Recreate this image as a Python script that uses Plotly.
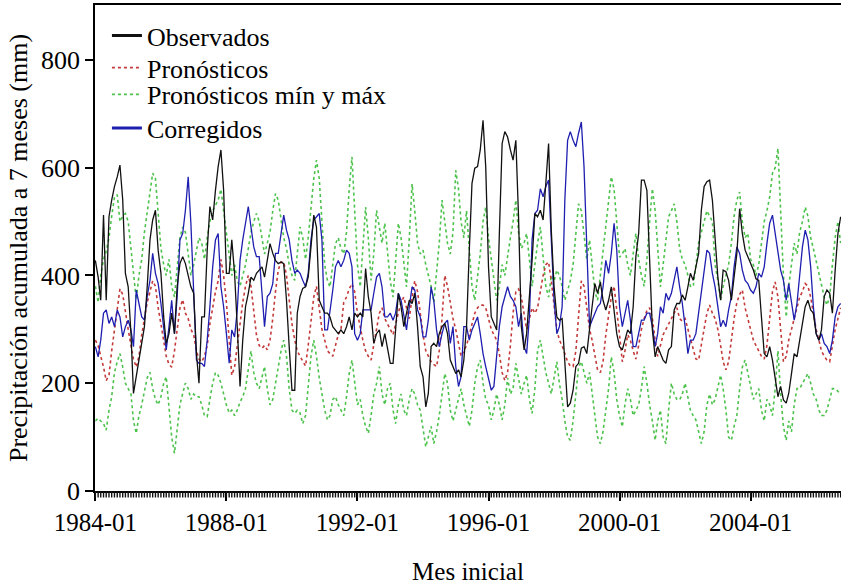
import pandas as pd
import plotly.graph_objects as go

# Monthly series, 1984-01 .. 2006-10 (274 months)
start_month = "1984-01-01"

observados = [
    428, 397, 354, 512, 354, 509, 540, 565, 583, 605, 540, 404, 379, 292, 181, 212, 237, 268, 305, 379, 466, 503, 521, 447, 404, 323, 274, 292, 330, 292, 379, 422, 435, 422, 397, 379, 367, 255, 200, 323, 323, 447, 528, 503, 558, 602,
    633, 558, 404, 404, 466, 404, 305, 194, 280, 342, 367, 397, 391, 404, 410, 416, 397, 428, 459, 441, 428, 422, 425, 422, 354, 268, 187, 187, 330, 361, 376, 379, 397, 453, 512, 490, 354, 342, 330, 330, 323, 305, 299, 292, 299,
    292, 305, 323, 299, 330, 323, 330, 323, 413, 361, 330, 274, 292, 299, 268, 292, 262, 237, 237, 292, 367, 342, 305, 330, 354, 348, 367, 305, 231, 212, 156, 181, 268, 274, 268, 292, 305, 311, 292, 243, 231, 218, 225, 212, 243,
    305, 447, 571, 599, 602, 633, 688, 602, 416, 323, 311, 299, 478, 645, 667, 657, 633, 614, 651, 509, 305, 262, 292, 354, 428, 515, 509, 521, 503, 571, 645, 484, 379, 323, 317, 320, 243, 156, 163, 187, 231, 237, 265, 268, 255,
    305, 342, 385, 367, 388, 354, 336, 354, 379, 330, 292, 268, 262, 280, 299, 292, 342, 435, 478, 577, 577, 558, 416, 299, 249, 268, 255, 243, 237, 262, 268, 336, 348, 348, 364, 354, 379, 404, 391, 416, 441, 521, 565, 574, 577,
    540, 466, 397, 354, 410, 407, 391, 354, 397, 441, 524, 478, 447, 435, 422, 410, 394, 391, 323, 255, 249, 268, 243, 212, 175, 194, 169, 163, 181, 218, 255, 249, 280, 305, 342, 354, 336, 330, 292, 280, 299, 361, 373, 367, 330, 410, 478, 509,
]

corregidos = [
    268, 249, 280, 330, 336, 311, 323, 305, 336, 323, 286, 305, 317, 299, 268, 373, 348, 323, 317, 361, 391, 441, 404, 385, 348, 299, 262, 305, 354, 292, 361, 466, 478, 521, 583, 497, 379, 243, 237, 237, 231, 280, 342, 416, 466, 478,
    379, 342, 292, 237, 299, 286, 336, 428, 466, 497, 528, 490, 453, 435, 435, 367, 305, 361, 367, 385, 441, 441, 478, 512, 484, 466, 428, 404, 410, 404, 391, 379, 404, 466, 503, 509, 515, 466, 299, 299, 330, 373, 416, 428, 416,
    428, 447, 441, 416, 292, 280, 292, 336, 336, 336, 336, 367, 397, 404, 379, 323, 323, 330, 317, 330, 367, 354, 323, 299, 342, 379, 373, 336, 323, 286, 286, 317, 379, 354, 299, 268, 292, 311, 317, 274, 305, 231, 194, 212, 305,
    305, 280, 299, 311, 323, 292, 255, 231, 206, 187, 194, 255, 305, 342, 361, 379, 361, 354, 342, 305, 330, 268, 255, 323, 466, 515, 521, 561, 546, 565, 577, 466, 354, 292, 305, 342, 540, 651, 667, 651, 639, 664, 685, 602, 466,
    305, 317, 330, 342, 348, 379, 428, 404, 441, 497, 447, 342, 305, 330, 354, 317, 268, 268, 292, 317, 317, 330, 330, 305, 268, 292, 342, 330, 367, 354, 367, 391, 416, 379, 348, 305, 255, 280, 280, 292, 330, 361, 404, 447, 441,
    404, 379, 342, 305, 317, 305, 336, 361, 416, 453, 441, 410, 391, 385, 373, 367, 379, 404, 397, 416, 459, 497, 512, 478, 435, 410, 391, 354, 385, 354, 317, 348, 404, 453, 484, 466, 416, 342, 292, 280, 292, 274, 268, 255, 280, 323, 342, 348,
]

pronosticos = [
    280, 270, 250, 230, 205, 215, 260, 300, 340, 375, 365, 330, 300, 270, 245, 230, 250, 290, 320, 350, 370, 390, 380, 340, 310, 280, 250, 235, 230, 260, 300, 340, 355, 330, 320, 300, 290, 260, 245, 240, 250, 270, 310, 340, 370, 390,
    430, 400, 350, 280, 215, 230, 270, 310, 350, 380, 400, 380, 330, 290, 270, 265, 270, 262, 280, 320, 370, 410, 425, 425, 400, 350, 310, 280, 260, 250, 240, 232, 270, 320, 360, 380, 340, 300, 280, 260, 255, 250, 270, 290, 300,
    350, 360, 375, 385, 370, 330, 300, 280, 260, 250, 243, 270, 300, 330, 340, 320, 310, 300, 290, 310, 330, 350, 360, 340, 320, 360, 390, 370, 330, 290, 260, 250, 240, 235, 231, 260, 320, 400, 380, 350, 320, 300, 270, 250, 260,
    270, 290, 310, 330, 340, 345, 345, 340, 320, 300, 290, 280, 255, 220, 205, 220, 270, 330, 370, 375, 360, 330, 300, 320, 340, 330, 340, 370, 400, 420, 425, 390, 340, 300, 280, 270, 255, 240, 232, 231, 260, 330, 390, 380, 340,
    300, 280, 250, 225, 220, 240, 290, 330, 360, 380, 340, 290, 240, 260, 290, 280, 260, 245, 270, 300, 320, 335, 340, 320, 280, 250, 270, 290, 300, 310, 320, 330, 340, 320, 315, 320, 300, 280, 260, 245, 243, 270, 300, 330, 345,
    330, 320, 300, 270, 240, 225, 240, 280, 320, 350, 365, 373, 340, 320, 300, 280, 270, 260, 250, 245, 270, 320, 370, 388, 360, 300, 240, 250, 280, 300, 320, 340, 360, 370, 385, 380, 360, 330, 300, 280, 260, 250, 243, 240, 270, 300, 320, 340,
]

pronosticos_max = [
    380, 350, 400, 430, 445, 470, 510, 545, 550, 500, 510, 515, 500, 450, 400, 355, 400, 430, 480, 520, 560, 590, 580, 520, 450, 420, 400, 430, 380, 360, 420, 470, 490, 480, 440, 400, 420, 450, 470, 460, 430, 470, 500, 520, 530, 540,
    560, 520, 470, 430, 400, 420, 390, 380, 400, 420, 450, 480, 500, 515, 500, 470, 440, 460, 480, 520, 552, 540, 500, 470, 450, 420, 400, 391, 440, 490, 470, 430, 470, 527, 580, 614, 580, 500, 420, 390, 379, 420, 459, 470, 450,
    440, 480, 560, 620, 520, 420, 379, 450, 527, 470, 391, 440, 521, 490, 460, 497, 440, 390, 360, 420, 497, 470, 420, 379, 470, 570, 520, 460, 440, 447, 420, 400, 380, 350, 400, 460, 540, 500, 460, 440, 480, 595, 560, 500, 470,
    520, 450, 380, 354, 400, 440, 500, 527, 470, 430, 400, 354, 380, 420, 400, 440, 470, 500, 540, 480, 450, 460, 478, 430, 380, 420, 460, 490, 440, 380, 360, 400, 390, 410, 400, 380, 354, 370, 390, 420, 480, 533, 520, 470, 430,
    466, 420, 370, 354, 400, 440, 490, 527, 583, 560, 490, 434, 440, 450, 420, 400, 440, 478, 430, 400, 380, 430, 500, 561, 520, 450, 379, 420, 470, 509, 520, 533, 500, 450, 430, 420, 400, 380, 379, 420, 460, 480, 500, 520, 510,
    500, 420, 391, 354, 380, 400, 420, 460, 510, 540, 555, 500, 470, 478, 430, 420, 400, 420, 460, 500, 520, 546, 590, 600, 636, 520, 400, 323, 380, 420, 460, 440, 480, 500, 527, 510, 470, 450, 428, 400, 380, 360, 345, 360, 420, 470, 500, 460,
]

pronosticos_min = [
    130, 135, 130, 125, 113, 150, 175, 220, 240, 255, 230, 200, 190, 180, 130, 107, 140, 160, 185, 210, 220, 190, 170, 160, 175, 200, 212, 150, 100, 70, 110, 160, 181, 200, 190, 170, 180, 175, 175, 160, 140, 138, 170, 200, 220, 215,
    200, 180, 160, 145, 150, 140, 150, 165, 175, 190, 230, 260, 220, 200, 190, 215, 231, 190, 160, 170, 200, 230, 260, 280, 250, 190, 150, 144, 150, 145, 125, 140, 190, 250, 280, 250, 210, 180, 150, 132, 140, 170, 175, 160, 150,
    140, 175, 218, 243, 200, 160, 170, 140, 120, 107, 140, 180, 200, 231, 180, 160, 190, 200, 150, 125, 160, 180, 150, 140, 170, 190, 180, 160, 150, 120, 82, 100, 120, 88, 110, 140, 180, 218, 200, 150, 130, 150, 170, 190, 160,
    140, 120, 150, 200, 230, 243, 200, 170, 160, 132, 150, 180, 160, 132, 160, 210, 180, 190, 237, 210, 180, 200, 215, 170, 144, 190, 260, 280, 250, 220, 200, 180, 210, 240, 200, 170, 130, 100, 94, 130, 180, 230, 240, 220, 200,
    220, 180, 140, 100, 88, 110, 150, 190, 249, 220, 170, 140, 119, 160, 190, 170, 140, 150, 160, 190, 231, 200, 160, 130, 94, 130, 150, 100, 88, 150, 200, 180, 170, 169, 180, 200, 170, 150, 140, 132, 110, 88, 110, 160, 180,
    160, 170, 190, 215, 190, 150, 100, 94, 120, 140, 190, 230, 243, 220, 200, 170, 180, 190, 150, 130, 170, 160, 140, 190, 260, 180, 120, 94, 130, 110, 160, 190, 190, 200, 210, 218, 200, 180, 170, 150, 140, 140, 150, 170, 190, 190, 185, 180,
]

y_ticks = [0, 200, 400, 600, 800]
legend_names = ["Observados", "Pronósticos", "Pronósticos mín y máx", "Corregidos"]

n = len(observados)
for s in (corregidos, pronosticos, pronosticos_max, pronosticos_min):
    assert len(s) == n, len(s)
fechas = pd.date_range(start_month, periods=n, freq="MS")

BLACK = "#111111"
RED = "#c43a3a"
GREEN = "#4cc24c"
BLUE = "#1e1eb0"
FONT = "Liberation Serif"
X_RANGE = ["1983-12-28", "2006-10-05"]
Y_RANGE = [0, 902]

# plot area 5..505 px; main panel sits above a thin 14 px strip for monthly ticks
STRIP = 0.028

fig = go.Figure()
common = dict(mode="lines", showlegend=False, hoverinfo="skip")
fig.add_trace(go.Scatter(x=fechas, y=pronosticos_min, line=dict(color=GREEN, width=1.6, dash="dot"), **common))
fig.add_trace(go.Scatter(x=fechas, y=pronosticos_max, line=dict(color=GREEN, width=1.6, dash="dot"), **common))
fig.add_trace(go.Scatter(x=fechas, y=pronosticos, line=dict(color=RED, width=1.6, dash="dot"), **common))
fig.add_trace(go.Scatter(x=fechas, y=corregidos, line=dict(color=BLUE, width=1.3), **common))
fig.add_trace(go.Scatter(x=fechas, y=observados, line=dict(color=BLACK, width=1.3), **common))

# monthly minor ticks, drawn in the strip just under the x axis line
fig.add_trace(go.Scatter(
    x=fechas, y=[11] * n, xaxis="x", yaxis="y2", mode="markers",
    showlegend=False, hoverinfo="skip",
    marker=dict(symbol="line-ns", size=5, color=BLACK, line=dict(color=BLACK, width=1.4)),
))

# legend entries, one small legend per row so the row spacing matches
leg_styles = [
    dict(color=BLACK, width=3),
    dict(color=RED, width=1.8, dash="dot"),
    dict(color=GREEN, width=1.8, dash="dot"),
    dict(color=BLUE, width=3),
]
leg_ids = ["legend", "legend2", "legend3", "legend4"]
leg_y = [0.9388, 0.8746, 0.8212, 0.754]
for nm, ls, lid in zip(legend_names, leg_styles, leg_ids):
    fig.add_trace(go.Scatter(x=[None], y=[None], mode="lines", name=nm, line=ls,
                             showlegend=True, legend=lid))

legend_layout = {}
for lid, ly in zip(leg_ids, leg_y):
    legend_layout[lid] = dict(x=0.016, y=ly, xanchor="left", yanchor="middle",
                              bgcolor="rgba(0,0,0,0)", font=dict(family=FONT, size=26, color="black"),
                              itemwidth=30)

fig.update_layout(
    width=841, height=585,
    margin=dict(l=95, r=0, t=5, b=80),
    paper_bgcolor="white", plot_bgcolor="white",
    font=dict(family=FONT, size=25, color="black"),
    xaxis=dict(
        type="date",
        range=X_RANGE, anchor="y",
        showgrid=False, zeroline=False,
        showline=True, linecolor="black", linewidth=1.5, mirror=True,
        ticks="outside", ticklen=8, tickwidth=1.5, tickcolor="black",
        tick0="1984-01-01", dtick="M48", tickformat="%Y-%m",
        tickfont=dict(family=FONT, size=25, color="black"),
        title=dict(text="Mes inicial", font=dict(family=FONT, size=25), standoff=28),
    ),
    yaxis=dict(
        domain=[STRIP, 1],
        range=Y_RANGE,
        showgrid=False, zeroline=False,
        showline=True, linecolor="black", linewidth=1.5,
        ticks="outside", ticklen=8, tickwidth=1.5, tickcolor="black",
        tickvals=y_ticks, ticktext=[str(v) for v in y_ticks],
        tickfont=dict(family=FONT, size=26, color="black"),
        title=dict(text="Precipitación acumulada a 7 meses (mm)", font=dict(family=FONT, size=26), standoff=6),
    ),
    yaxis2=dict(domain=[0, STRIP], range=[0, 14], visible=False, fixedrange=True),
    **legend_layout,
)

fig.write_html("out.html")
